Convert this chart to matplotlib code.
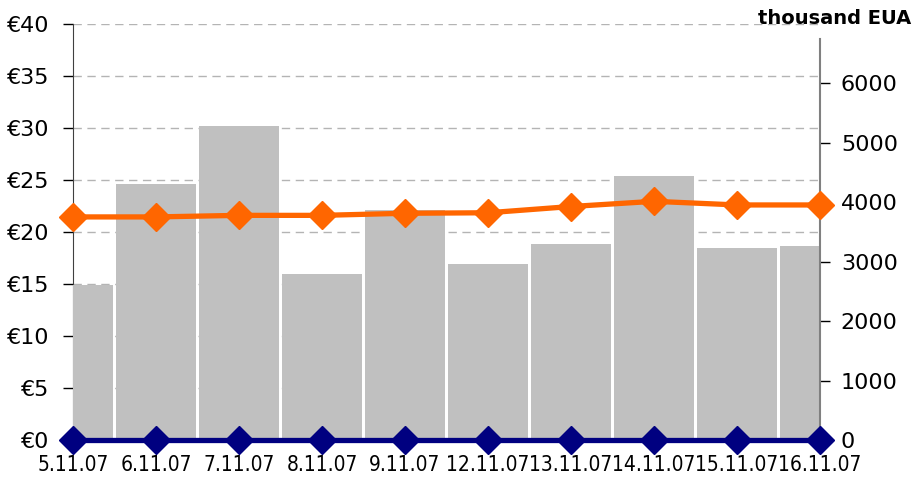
import matplotlib
matplotlib.use('Agg')
import matplotlib.pyplot as plt
import numpy as np

# Datos
dates = ['5.11.07', '6.11.07', '7.11.07', '8.11.07', '9.11.07',
         '12.11.07', '13.11.07', '14.11.07', '15.11.07', '16.11.07']
volume = [2600, 4300, 5290, 2790, 3875, 2960, 3300, 4450, 3230, 3270]   # thousand EUA
price = [21.45, 21.45, 21.6, 21.6, 21.8, 21.85, 22.45, 22.95, 22.6, 22.6]  # EUR
price_zero = [0, 0, 0, 0, 0, 0, 0, 0, 0, 0]

plt.rcParams['font.family'] = 'DejaVu Sans'

fig = plt.figure(figsize=(9.16, 4.83), dpi=100)
rect = [73 / 916, 1 - 440 / 483, (820 - 73) / 916, (440 - 24) / 483]
ax = fig.add_axes(rect)          # eje izquierdo (€) + rejilla
ax2 = ax.twinx()                 # eje derecho (barras)
ax3 = fig.add_axes(rect)         # líneas encima de todo
ax3.set_zorder(ax2.get_zorder() + 1)
ax3.patch.set_visible(False)
ax3.axis('off')

x = np.arange(len(dates))

# Barras
ax2.bar(x, volume, width=0.965, color='#c0c0c0', edgecolor='none', zorder=1)
ax2.set_ylim(0, 7000)
ax2.set_yticks([0, 1000, 2000, 3000, 4000, 5000, 6000])
ax2.tick_params(axis='y', labelsize=16, length=7, width=1, pad=8)
for s in ['top', 'left', 'bottom']:
    ax2.spines[s].set_visible(False)
ax2.spines['right'].set_color('#808080')
ax2.spines['right'].set_linewidth(1.5)
ax2.spines['right'].set_bounds(0, 6750)

# Eje izquierdo
ax.set_xlim(0, len(dates) - 1)
ax.set_ylim(0, 40)
ax.set_yticks(range(0, 41, 5))
ax.set_yticklabels([f'€{v}' for v in range(0, 41, 5)])
ax.tick_params(axis='y', labelsize=16, length=7, width=1, pad=10)
ax.set_xticks(x)
ax.set_xticklabels(dates, fontstretch='condensed')
ax.tick_params(axis='x', labelsize=15, length=0, pad=11)
ax.grid(axis='y', color='#b4b4b4', linestyle=(0, (6, 4)), linewidth=1)
for s in ['top', 'right', 'bottom']:
    ax.spines[s].set_visible(False)
ax.spines['left'].set_color('#404040')

# Líneas
ax3.set_xlim(ax.get_xlim())
ax3.set_ylim(0, 40)
ax3.plot(x, price, color='#ff6600', lw=3.8, marker='D', markersize=14,
         clip_on=False, zorder=4)
ax3.plot(x, price_zero, color='#000080', lw=3.8, marker='D', markersize=14,
         clip_on=False, zorder=5)

fig.text(911 / 916, 1 - 19 / 483, 'thousand EUA', ha='right', va='center',
         fontsize=14, fontweight='bold')

fig.savefig('out.png', dpi=100)
